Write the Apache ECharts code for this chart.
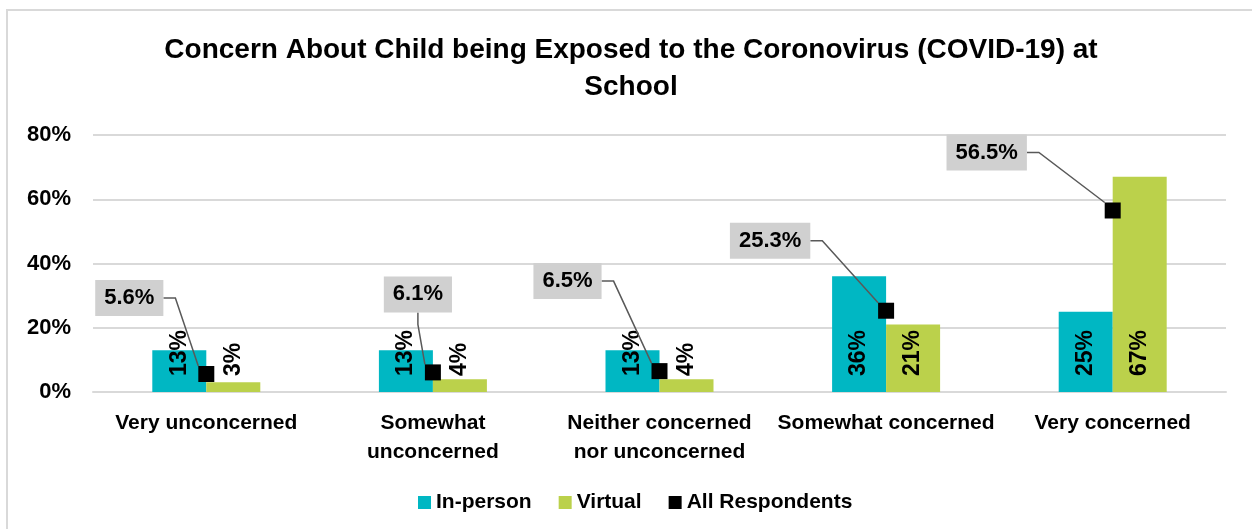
<!DOCTYPE html>
<html>
<head>
<meta charset="utf-8">
<script src="https://cdn.jsdelivr.net/npm/echarts@6/dist/echarts.min.js"></script>
<style>
  html, body { margin: 0; padding: 0; background: #ffffff; }
  #wrap { position: relative; width: 1252px; height: 529px; overflow: hidden; background: #fff; }
  #frame { position: absolute; left: 6px; top: 9px; width: 1300px; height: 600px;
           border-top: 2px solid #d9d9d9; border-left: 2px solid #d9d9d9; box-sizing: border-box; }
  #chart { position: absolute; left: 0; top: 0; width: 1252px; height: 529px; }
</style>
</head>
<body>
<div id="wrap">
  <div id="frame"></div>
  <div id="chart"></div>
</div>
<script>
// Survey answers, shares in percent
const categories = ['Very unconcerned', 'Somewhat\nunconcerned', 'Neither concerned\nnor unconcerned', 'Somewhat concerned', 'Very concerned'];
const inPerson = [13, 13, 13, 36, 25];
const virtual = [3, 4, 4, 21, 67];
const allRespondents = [5.6, 6.1, 6.5, 25.3, 56.5];
const seriesNames = ['In-person', 'Virtual', 'All Respondents'];
const titleText = 'Concern About Child being Exposed to the Coronovirus (COVID-19) at\nSchool';

const FONT = '"Liberation Sans", Arial, sans-serif';

// where each callout box sits relative to its marker
const calloutShift = [[-77, -76], [-15, -78], [-92, -90], [-116, -70], [-126, -58]];

const barLabel = {
  show: true,
  position: 'insideBottom',
  distance: 16,
  rotate: 90,
  align: 'left',
  verticalAlign: 'middle',
  formatter: p => p.value + '%',
  color: '#000',
  fontFamily: FONT,
  fontWeight: 'bold',
  fontSize: 23
};

const chart = echarts.init(document.getElementById('chart'), null, { renderer: 'canvas' });
chart.setOption({
  animation: false,
  backgroundColor: 'transparent',
  title: {
    text: titleText,
    left: 631,
    textAlign: 'center',
    top: 32,
    padding: 0,
    textStyle: { fontFamily: FONT, fontWeight: 'bold', fontSize: 28, lineHeight: 37, color: '#000' }
  },
  legend: {
    data: seriesNames,
    left: 413,
    top: 487,
    icon: 'rect',
    itemWidth: 13,
    itemHeight: 13,
    itemGap: 27,
    textStyle: { fontFamily: FONT, fontWeight: 'bold', fontSize: 21, color: '#000' }
  },
  grid: { left: 93, right: 26, top: 135, bottom: 137 },
  xAxis: {
    type: 'category',
    data: categories,
    axisLine: { lineStyle: { color: '#d9d9d9', width: 2 } },
    axisTick: { show: false },
    axisLabel: {
      margin: 17, interval: 0, color: '#000', fontFamily: FONT, fontWeight: 'bold',
      fontSize: 21, lineHeight: 29
    }
  },
  yAxis: {
    type: 'value',
    min: 0, max: 80, interval: 20,
    axisLine: { show: false },
    axisTick: { show: false },
    splitLine: { lineStyle: { color: '#d9d9d9', width: 2 } },
    axisLabel: {
      formatter: '{value}%', margin: 22, color: '#000', fontFamily: FONT,
      fontWeight: 'bold', fontSize: 22
    }
  },
  series: [
    {
      name: seriesNames[0], type: 'bar', data: inPerson, barWidth: 54, barGap: '0%',
      itemStyle: { color: '#00B7C3' }, label: barLabel, z: 2
    },
    {
      name: seriesNames[1], type: 'bar', data: virtual, barWidth: 54,
      itemStyle: { color: '#BBD14B' }, label: barLabel, z: 2
    },
    {
      name: seriesNames[2], type: 'scatter', data: allRespondents,
      symbol: 'rect', symbolSize: 16, z: 5,
      itemStyle: { color: '#000', opacity: 1 },
      label: {
        show: true,
        position: 'inside',
        formatter: p => p.value.toFixed(1) + '%',
        color: '#000',
        fontFamily: FONT,
        fontWeight: 'bold',
        fontSize: 22,
        lineHeight: 22,
        backgroundColor: '#d0d0d0',
        padding: [7, 9]
      },
      labelLine: { show: true, length2: 12, lineStyle: { color: '#595959', width: 1.5 } },
      labelLayout: p => {
        const s = calloutShift[p.dataIndex];
        return {
          x: p.rect.x + p.rect.width / 2 + s[0],
          y: p.rect.y + p.rect.height / 2 + s[1],
          align: 'center',
          verticalAlign: 'middle',
          hideOverlap: false,
          moveOverlap: null
        };
      }
    }
  ]
});
</script>
</body>
</html>
